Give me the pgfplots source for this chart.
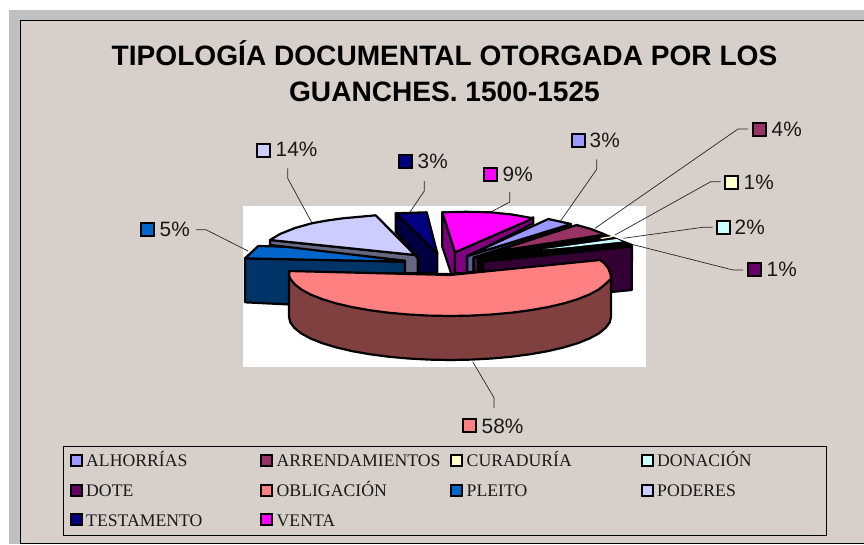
\documentclass[border=0pt]{standalone}
\usepackage{fontspec}
\usepackage{pgfplots}
\pgfplotsset{compat=1.18}
\setmainfont{Liberation Serif}
\newfontfamily\arialf{Liberation Sans}
\definecolor{bgc}{HTML}{D7CFC9}
\definecolor{grayc}{HTML}{C0C0C0}
\definecolor{alh}{HTML}{9999FF}
\definecolor{alhs}{HTML}{5C5C99}
\definecolor{arr}{HTML}{993366}
\definecolor{arrs}{HTML}{4D1933}
\definecolor{cur}{HTML}{FFFFCC}
\definecolor{don}{HTML}{CCFFFF}
\definecolor{dot}{HTML}{660066}
\definecolor{dots}{HTML}{330033}
\definecolor{obl}{HTML}{FF8080}
\definecolor{obls}{HTML}{804040}
\definecolor{ple}{HTML}{0066CC}
\definecolor{ples}{HTML}{003366}
\definecolor{pod}{HTML}{CCCCFF}
\definecolor{pods}{HTML}{666680}
\definecolor{tes}{HTML}{000080}
\definecolor{tess}{HTML}{000040}
\definecolor{ven}{HTML}{FF00FF}
\definecolor{vens}{HTML}{800080}
\newcommand{\slice}[2]{\addplot[fill=#1,draw=black,line width=2.2pt,line join=round] coordinates {#2} -- cycle;}
\newcommand{\leader}[1]{\addplot[draw=black!85,line width=0.7pt] coordinates {#1};}
\newcommand{\swatch}[5]{\addplot[fill=#1,draw=black,line width=2pt,line join=miter] coordinates {(#2,#3) (#4,#3) (#4,#5) (#2,#5)} -- cycle;}
\newcommand{\pct}[3]{\node[anchor=base west,inner sep=0pt,font=\arialf\fontsize{20.8}{24}\selectfont,text=black!90] at (axis cs:#1,#2) {#3};}
\newcommand{\leg}[3]{\node[anchor=base west,inner sep=0pt,font=\fontsize{17.7}{20}\selectfont,text=black!90] at (axis cs:#1,#2) {#3};}
\begin{document}
\begin{tikzpicture}
\begin{axis}[width=864pt,height=544pt,scale only axis,xmin=0,xmax=864,ymin=0,ymax=544,y dir=reverse,hide axis]
% page frame
\addplot[fill=white,draw=none] coordinates {(0,0) (864,0) (864,544) (0,544)} -- cycle;
\addplot[fill=grayc,draw=none] coordinates {(9,10) (864,10) (864,544) (9,544)} -- cycle;
\addplot[fill=bgc,draw=black,line width=1pt] coordinates {(20.5,20.5) (870,20.5) (870,543) (20.5,543)} -- cycle;
\addplot[fill=white,draw=none] coordinates {(243.3,206) (646,206) (646,366.7) (243.3,366.7)} -- cycle;
% leaders
\leader{(287.7,168.3) (287.7,178.3) (312,223)}
\leader{(196,229.7) (206,229.7) (248,251)}
\leader{(424.3,181) (424.3,191) (410,212)}
\leader{(509.7,192) (509.7,202) (491,212)}
\leader{(596.7,159.3) (596.7,169.3) (560,221.7)}
\leader{(748,129) (738,129) (595,228.3)}
\leader{(720.7,181.7) (710.7,181.7) (615,235)}
\leader{(712.7,227.3) (702.7,227.3) (623.3,238.3)}
\leader{(743,270) (733,270) (631.7,244.3)}
\leader{(472.7,361.7) (494,397.7) (494,408)}
% PLEITO
\slice{ples}{(245,258.3) (405,261.7) (405,275) (300,305) (245,302.3)}
\slice{ple}{(245,258.3) (258.3,246) (300,247) (380,258) (405,261.7)}
% PODERES
\slice{pods}{(270,240) (270,245) (405,260.7) (405,273.3) (417.7,273.3) (417.7,258.3) (415,255)}
\slice{pod}{(270,240) (280,234) (295,228) (311.7,223.3) (327,220.5) (343,218.3) (375.7,215.3) (415,255)}
% TESTAMENTO
\slice{tess}{(395.7,213.3) (437.3,253.3) (437.3,273.3) (418.3,273.3) (418.3,258) (395.7,232)}
\slice{tes}{(395.7,213.3) (426.7,212.3) (437.3,253.3)}
% VENTA
\slice{vens}{(442.3,212.3) (455,252.3) (455,273.3) (451.7,275) (442.3,246.7)}
\slice{vens}{(455,252.3) (533.3,217.3) (533.3,223.3) (466.7,256.7) (466.7,273) (455,273.3)}
\slice{ven}{(442.3,212.3) (466,211.8) (490,212.3) (512,214.5) (533.3,218.3) (455,252.3)}
% ALHORRIAS
\slice{alhs}{(467.3,256) (571,224.5) (571,226.5) (473.5,257.5) (473.5,272) (467.3,272)}
\slice{alh}{(467.3,256) (548.3,219) (571,224)}
% black mass with the narrow slices
\slice{black}{(474,258) (493,252) (603,234) (632,245) (632,262) (483,270) (474,272)}
\slice{arrs}{(474,258) (478,257) (478,272) (474,272)}
% ARRENDAMIENTOS
\slice{arr}{(493,252) (576.7,225) (591,229) (605,234.5)}
% CURADURIA (hidden sliver) and DONACION
\addplot[fill=cur,draw=none] coordinates {(600,238) (612,236) (613,237) (602,239)} -- cycle;
\addplot[fill=don,draw=none] coordinates {(543.3,249.3) (616.7,239) (622,241.5) (570,247)} -- cycle;
% DOTE
\slice{dots}{(483.3,261.7) (631.7,246.5) (631.7,290) (611,292) (483.3,292)}
% OBLIGACION side and top
\slice{obls}{(289,272) (289,317) (290.4,322.6) (294.5,328) (301.3,333.5) (310.6,338.5) (322.3,343.2) (336.2,347.4) (352,351.1) (369.5,354.2) (388.4,356.7) (408.3,358.5) (429,359.6) (450,360) (471,359.6) (491.7,358.5) (511.6,356.7) (530.5,354.2) (548,351.1) (563.8,347.4) (577.7,343.2) (589.4,338.5) (598.7,333.5) (605.5,328) (609.6,322.6) (611,317) (611,276)}
\slice{obl}{(289.3,271) (450,275) (600,260) (604,263) (608.3,268.3) (610.5,274) (611,279) (609.6,280) (605.5,284) (598.7,289.5) (589.4,294.5) (577.7,299.2) (563.8,303.4) (548,307.1) (530.5,310.2) (511.6,312.7) (491.7,314.5) (471,315.6) (450,316) (429,315.6) (408.3,314.5) (388.4,312.7) (369.5,310.2) (352,307.1) (336.2,303.4) (322.3,299.2) (310.6,294.5) (301.3,289.5) (294.5,284) (290.4,279) (289.3,276)}
% percent-label swatches
\swatch{pod}{257}{143.7}{269.7}{156.7}
\swatch{ple}{141}{223}{154}{236}
\swatch{tes}{399}{155}{412}{168}
\swatch{ven}{484}{168}{497}{181}
\swatch{alh}{571.7}{134}{584.7}{147}
\swatch{arr}{753}{123}{766}{136}
\swatch{cur}{725}{176}{738}{189}
\swatch{don}{717}{221}{730}{234}
\swatch{dot}{747.7}{263}{760.7}{276}
\swatch{obl}{463}{419}{475.7}{432}
% legend box
\addplot[draw=black,line width=0.8pt] coordinates {(63.5,446) (826,446) (826,535.7) (63.5,535.7)} -- cycle;
% legend swatches
\swatch{alh}{71}{455}{81.7}{466}
\swatch{arr}{261}{455}{271.7}{466}
\swatch{cur}{451}{455}{461.7}{466}
\swatch{don}{642}{455}{652.7}{466}
\swatch{dot}{71}{485}{81.7}{496}
\swatch{obl}{261}{485}{271.7}{496}
\swatch{ple}{451}{485}{461.7}{496}
\swatch{pod}{642}{485}{652.7}{496}
\swatch{tes}{71}{514}{81.7}{525}
\swatch{ven}{261}{514}{271.7}{525}
% texts
\node[anchor=base,inner sep=0pt,font=\arialf\bfseries\fontsize{28.1}{33}\selectfont] at (axis cs:444.5,65) {TIPOLOGÍA DOCUMENTAL OTORGADA POR LOS};
\node[anchor=base,inner sep=0pt,font=\arialf\bfseries\fontsize{28.1}{33}\selectfont] at (axis cs:444.5,101) {GUANCHES. 1500-1525};
\pct{275.5}{156.7}{14\%}
\pct{159.5}{236}{5\%}
\pct{417.5}{168}{3\%}
\pct{502.5}{181}{9\%}
\pct{589.5}{147}{3\%}
\pct{771.5}{136}{4\%}
\pct{743.5}{189}{1\%}
\pct{734.5}{234}{2\%}
\pct{766.5}{276}{1\%}
\pct{481.5}{433}{58\%}
\leg{86}{466.5}{ALHORRÍAS}
\leg{276.5}{466.5}{ARRENDAMIENTOS}
\leg{466.5}{466.5}{CURADURÍA}
\leg{657}{466.5}{DONACIÓN}
\leg{86}{496.5}{DOTE}
\leg{276.5}{496.5}{OBLIGACIÓN}
\leg{466.5}{496.5}{PLEITO}
\leg{657}{496.5}{PODERES}
\leg{86}{526}{TESTAMENTO}
\leg{276.5}{526}{VENTA}
\end{axis}
\end{tikzpicture}
\end{document}
